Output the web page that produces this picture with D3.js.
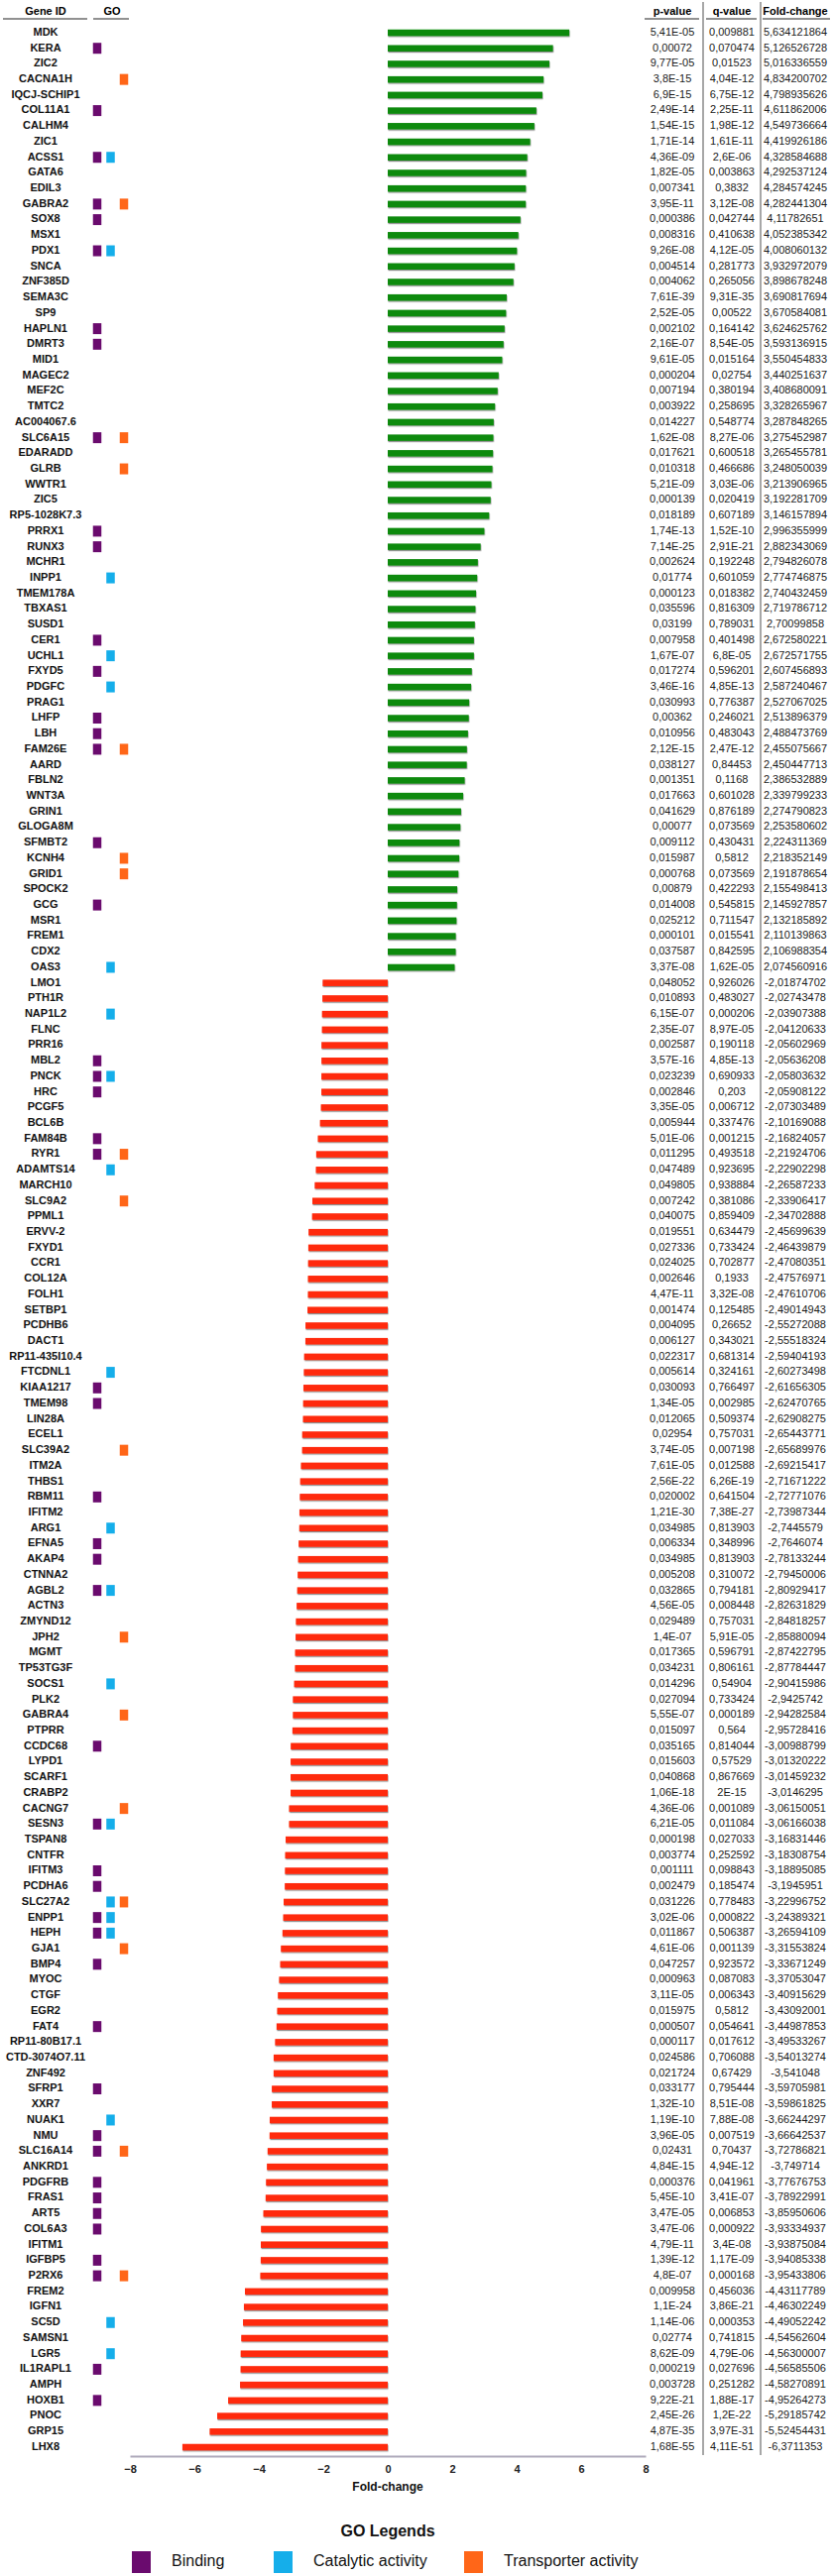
<!DOCTYPE html>
<html>
<head>
<meta charset="utf-8">
<script src="https://cdn.jsdelivr.net/npm/d3@7"></script>
<style>
  html, body { margin: 0; padding: 0; background: #fff; }
  svg text { font-family: "Liberation Sans", Arial, sans-serif; }
</style>
</head>
<body>
<svg id="chart" width="840" height="2599"></svg>
<script>
const genes = ["MDK","KERA","ZIC2","CACNA1H","IQCJ-SCHIP1","COL11A1","CALHM4","ZIC1","ACSS1","GATA6","EDIL3","GABRA2","SOX8","MSX1","PDX1","SNCA","ZNF385D","SEMA3C","SP9","HAPLN1","DMRT3","MID1","MAGEC2","MEF2C","TMTC2","AC004067.6","SLC6A15","EDARADD","GLRB","WWTR1","ZIC5","RP5-1028K7.3","PRRX1","RUNX3","MCHR1","INPP1","TMEM178A","TBXAS1","SUSD1","CER1","UCHL1","FXYD5","PDGFC","PRAG1","LHFP","LBH","FAM26E","AARD","FBLN2","WNT3A","GRIN1","GLOGA8M","SFMBT2","KCNH4","GRID1","SPOCK2","GCG","MSR1","FREM1","CDX2","OAS3",
"LMO1","PTH1R","NAP1L2","FLNC","PRR16","MBL2","PNCK","HRC","PCGF5","BCL6B","FAM84B","RYR1","ADAMTS14","MARCH10","SLC9A2","PPML1","ERVV-2","FXYD1","CCR1","COL12A","FOLH1","SETBP1","PCDHB6","DACT1","RP11-435I10.4","FTCDNL1","KIAA1217","TMEM98","LIN28A","ECEL1","SLC39A2","ITM2A","THBS1","RBM11","IFITM2","ARG1","EFNA5","AKAP4","CTNNA2","AGBL2","ACTN3","ZMYND12","JPH2","MGMT","TP53TG3F","SOCS1","PLK2","GABRA4","PTPRR","CCDC68","LYPD1","SCARF1","CRABP2","CACNG7","SESN3","TSPAN8","CNTFR","IFITM3","PCDHA6","SLC27A2","ENPP1","HEPH","GJA1","BMP4","MYOC","CTGF","EGR2","FAT4","RP11-80B17.1","CTD-3074O7.11","ZNF492","SFRP1","XXR7","NUAK1","NMU","SLC16A14","ANKRD1","PDGFRB","FRAS1","ART5","COL6A3","IFITM1","IGFBP5","P2RX6","FREM2","IGFN1","SC5D","SAMSN1","LGR5","IL1RAPL1","AMPH","HOXB1","PNOC","GRP15","LHX8"];

const pValues = ["5,41E-05","0,00072","9,77E-05","3,8E-15","6,9E-15","2,49E-14","1,54E-15","1,71E-14","4,36E-09","1,82E-05","0,007341","3,95E-11","0,000386","0,008316","9,26E-08","0,004514","0,004062","7,61E-39","2,52E-05","0,002102","2,16E-07","9,61E-05","0,000204","0,007194","0,003922","0,014227","1,62E-08","0,017621","0,010318","5,21E-09","0,000139","0,018189","1,74E-13","7,14E-25","0,002624","0,01774","0,000123","0,035596","0,03199","0,007958","1,67E-07","0,017274","3,46E-16","0,030993","0,00362","0,010956","2,12E-15","0,038127","0,001351","0,017663","0,041629","0,00077","0,009112","0,015987","0,000768","0,00879","0,014008","0,025212","0,000101","0,037587","3,37E-08",
"0,048052","0,010893","6,15E-07","2,35E-07","0,002587","3,57E-16","0,023239","0,002846","3,35E-05","0,005944","5,01E-06","0,011295","0,047489","0,049805","0,007242","0,040075","0,019551","0,027336","0,024025","0,002646","4,47E-11","0,001474","0,004095","0,006127","0,022317","0,005614","0,030093","1,34E-05","0,012065","0,02954","3,74E-05","7,61E-05","2,56E-22","0,020002","1,21E-30","0,034985","0,006334","0,034985","0,005208","0,032865","4,56E-05","0,029489","1,4E-07","0,017365","0,034231","0,014296","0,027094","5,55E-07","0,015097","0,035165","0,015603","0,040868","1,06E-18","4,36E-06","6,21E-05","0,000198","0,003774","0,001111","0,002479","0,031226","3,02E-06","0,011867","4,61E-06","0,047257","0,000963","3,11E-05","0,015975","0,000507","0,000117","0,024586","0,021724","0,033177","1,32E-10","1,19E-10","3,96E-05","0,02431","4,84E-15","0,000376","5,45E-10","3,47E-05","3,47E-06","4,79E-11","1,39E-12","4,8E-07","0,009958","1,1E-24","1,14E-06","0,02774","8,62E-09","0,000219","0,003728","9,22E-21","2,45E-26","4,87E-35","1,68E-55"];

const qValues = ["0,009881","0,070474","0,01523","4,04E-12","6,75E-12","2,25E-11","1,98E-12","1,61E-11","2,6E-06","0,003863","0,3832","3,12E-08","0,042744","0,410638","4,12E-05","0,281773","0,265056","9,31E-35","0,00522","0,164142","8,54E-05","0,015164","0,02754","0,380194","0,258695","0,548774","8,27E-06","0,600518","0,466686","3,03E-06","0,020419","0,607189","1,52E-10","2,91E-21","0,192248","0,601059","0,018382","0,816309","0,789031","0,401498","6,8E-05","0,596201","4,85E-13","0,776387","0,246021","0,483043","2,47E-12","0,84453","0,1168","0,601028","0,876189","0,073569","0,430431","0,5812","0,073569","0,422293","0,545815","0,711547","0,015541","0,842595","1,62E-05",
"0,926026","0,483027","0,000206","8,97E-05","0,190118","4,85E-13","0,690933","0,203","0,006712","0,337476","0,001215","0,493518","0,923695","0,938884","0,381086","0,859409","0,634479","0,733424","0,702877","0,1933","3,32E-08","0,125485","0,26652","0,343021","0,681314","0,324161","0,766497","0,002985","0,509374","0,757031","0,007198","0,012588","6,26E-19","0,641504","7,38E-27","0,813903","0,348996","0,813903","0,310072","0,794181","0,008448","0,757031","5,91E-05","0,596791","0,806161","0,54904","0,733424","0,000189","0,564","0,814044","0,57529","0,867669","2E-15","0,001089","0,011084","0,027033","0,252592","0,098843","0,185474","0,778483","0,000822","0,506387","0,001139","0,923572","0,087083","0,006343","0,5812","0,054641","0,017612","0,706088","0,67429","0,795444","8,51E-08","7,88E-08","0,007519","0,70437","4,94E-12","0,041961","3,41E-07","0,006853","0,000922","3,4E-08","1,17E-09","0,000168","0,456036","3,86E-21","0,000353","0,741815","4,79E-06","0,027696","0,251282","1,88E-17","1,2E-22","3,97E-31","4,11E-51"];

const foldChange = [5.634121864,5.126526728,5.016336559,4.834200702,4.798935626,4.611862006,4.549736664,4.419926186,4.328584688,4.292537124,4.284574245,4.282441304,4.11782651,4.052385342,4.008060132,3.932972079,3.898678248,3.690817694,3.670584081,3.624625762,3.593136915,3.550454833,3.440251637,3.408680091,3.328265967,3.287848265,3.275452987,3.265455781,3.248050039,3.213906965,3.192281709,3.146157894,2.996355999,2.882343069,2.794826078,2.774746875,2.740432459,2.719786712,2.70099858,2.672580221,2.672571755,2.607456893,2.587240467,2.527067025,2.513896379,2.488473769,2.455075667,2.450447713,2.386532889,2.339799233,2.274790823,2.253580602,2.224311369,2.218352149,2.191878654,2.155498413,2.145927857,2.132185892,2.110139863,2.106988354,2.074560916,
-2.01874702,-2.02743478,-2.03907388,-2.04120633,-2.05602969,-2.05636208,-2.05803632,-2.05908122,-2.07303489,-2.10169088,-2.16824057,-2.21924706,-2.22902298,-2.26587233,-2.33906417,-2.34702888,-2.45699639,-2.46439879,-2.47080351,-2.47576971,-2.47610706,-2.49014943,-2.55272088,-2.55518324,-2.59404193,-2.60273498,-2.61656305,-2.62470765,-2.62908275,-2.65443771,-2.65689976,-2.69215417,-2.71671222,-2.72771076,-2.73987344,-2.7445579,-2.7646074,-2.78133244,-2.79450006,-2.80929417,-2.82631829,-2.84818257,-2.85880094,-2.87422795,-2.87784447,-2.90415986,-2.9425742,-2.94282584,-2.95728416,-3.00988799,-3.01320222,-3.01459232,-3.0146295,-3.06150051,-3.06166038,-3.16831446,-3.18308754,-3.18895085,-3.1945951,-3.22996752,-3.24389321,-3.26594109,-3.31553824,-3.33671249,-3.37053047,-3.40915629,-3.43092001,-3.44987853,-3.49533267,-3.54013274,-3.541048,-3.59705981,-3.59861825,-3.66244297,-3.66642537,-3.72786821,-3.749714,-3.77676753,-3.78922991,-3.85950606,-3.93334937,-3.93875084,-3.94085338,-3.95433806,-4.43117789,-4.46302249,-4.49052242,-4.54562604,-4.56300007,-4.56585506,-4.58270891,-4.95264273,-5.29185742,-5.52454431,-6.3711353];

const goBinding = ["KERA","COL11A1","ACSS1","GABRA2","SOX8","PDX1","HAPLN1","DMRT3","SLC6A15","PRRX1","RUNX3","CER1","FXYD5","LHFP","LBH","FAM26E","SFMBT2","GCG","MBL2","PNCK","HRC","FAM84B","RYR1","KIAA1217","TMEM98","RBM11","EFNA5","AKAP4","AGBL2","CCDC68","SESN3","IFITM3","PCDHA6","ENPP1","HEPH","BMP4","FAT4","SFRP1","NMU","SLC16A14","PDGFRB","FRAS1","ART5","COL6A3","IGFBP5","P2RX6","IL1RAPL1","HOXB1"];
const goCatalytic = ["ACSS1","PDX1","INPP1","UCHL1","PDGFC","OAS3","NAP1L2","PNCK","ADAMTS14","FTCDNL1","ARG1","AGBL2","SOCS1","SESN3","SLC27A2","ENPP1","HEPH","NUAK1","SC5D","LGR5"];
const goTransporter = ["CACNA1H","GABRA2","SLC6A15","GLRB","FAM26E","KCNH4","GRID1","RYR1","SLC9A2","SLC39A2","JPH2","GABRA4","CACNG7","SLC27A2","GJA1","SLC16A14","P2RX6"];

const xTicks = [-8,-6,-4,-2,0,2,4,6,8];
const tableHeaders = ["p-value","q-value","Fold-change"];
const legendItems = ["Binding","Catalytic activity","Transporter activity"];

// ---------- drawing ----------
const svg = d3.select("#chart");
const data = genes.map((g,i)=>({gene:g, p:pValues[i], q:qValues[i], fc:foldChange[i]}));

const x = d3.scaleLinear().domain([-8,8]).range([131,651]);
const y = d3.scalePoint().domain(genes).range([33,2469]);

const defs = svg.append("defs");
const f = defs.append("filter").attr("id","shadow").attr("x","-5%").attr("y","-50%").attr("width","110%").attr("height","250%");
f.append("feDropShadow").attr("dx",0.5).attr("dy",1.2).attr("stdDeviation",0.7).attr("flood-color","#000").attr("flood-opacity",0.45);

const colors = {green:"#0e8a0e", red:"#ff2a0c", B:"#6a0b6e", C:"#15aeea", T:"#ff6618"};

// headers
const hdrY = 12;
svg.append("text").attr("x",46).attr("y",hdrY).attr("text-anchor","middle").attr("dominant-baseline","middle")
  .attr("font-size",11).attr("font-weight","bold").text("Gene ID");
svg.append("text").attr("x",113).attr("y",hdrY).attr("text-anchor","middle").attr("dominant-baseline","middle")
  .attr("font-size",11).attr("font-weight","bold").text("GO");
const colX = [678,738,802];
const ulines = [[3,88],[94,130],[650,705],[712,763],[769,837]];
tableHeaders.forEach((h,i)=>{
  svg.append("text").attr("x",colX[i]).attr("y",hdrY).attr("text-anchor","middle").attr("dominant-baseline","middle")
    .attr("font-size",11).attr("font-weight","bold").text(h);
});
ulines.forEach(u=>{
  svg.append("line").attr("x1",u[0]).attr("x2",u[1]).attr("y1",19).attr("y2",19).attr("stroke","#222").attr("stroke-width",1);
});
// separators
[709,767].forEach(sx=>{
  svg.append("line").attr("x1",sx).attr("x2",sx).attr("y1",2).attr("y2",2477).attr("stroke","#8a8a8a").attr("stroke-width",1.5);
});

// gene names
svg.append("g").selectAll("text").data(data).join("text")
  .attr("x",46).attr("y",d=>y(d.gene)).attr("text-anchor","middle").attr("dominant-baseline","middle")
  .attr("font-size",11).attr("font-weight","bold").attr("fill","#111").text(d=>d.gene);

// GO squares
const goX = {B:98, C:111.5, T:125};
const goSets = [["B",goBinding],["C",goCatalytic],["T",goTransporter]];
goSets.forEach(([k,list])=>{
  svg.append("g").selectAll("rect").data(list).join("rect")
    .attr("x",goX[k]-4.25).attr("y",g=>y(g)-5.5).attr("width",8.5).attr("height",11).attr("fill",colors[k]);
});

// bars
const barH = 6.5;
svg.append("g").selectAll("rect").data(data).join("rect")
  .attr("x",d=>x(Math.min(0,d.fc))).attr("y",d=>y(d.gene)-barH/2)
  .attr("width",d=>Math.abs(x(d.fc)-x(0))).attr("height",barH)
  .attr("fill",d=>d.fc>=0?colors.green:colors.red).attr("filter","url(#shadow)");

// table values
const fmt = v => String(v).replace(".",",");
[["p",0],["q",1]].forEach(([k,i])=>{
  svg.append("g").selectAll("text").data(data).join("text")
    .attr("x",colX[i]).attr("y",d=>y(d.gene)).attr("text-anchor","middle").attr("dominant-baseline","middle")
    .attr("font-size",11).attr("fill","#1a1a1a").text(d=>d[k]);
});
svg.append("g").selectAll("text").data(data).join("text")
  .attr("x",colX[2]).attr("y",d=>y(d.gene)).attr("text-anchor","middle").attr("dominant-baseline","middle")
  .attr("font-size",11).attr("fill","#1a1a1a").text(d=>fmt(d.fc));

// x axis
const axisY = 2478;
const ax = svg.append("g").attr("transform",`translate(0,${axisY})`)
  .call(d3.axisBottom(x).tickValues(xTicks).tickSize(0).tickPadding(9).tickFormat(d3.format("d")));
ax.select(".domain").attr("stroke","#aeaabb").attr("stroke-width",2);
ax.selectAll("text").attr("font-size",11).attr("font-weight","bold").attr("fill","#222").attr("font-family","Liberation Sans, Arial, sans-serif");
svg.append("text").attr("x",x(0)).attr("y",2510).attr("text-anchor","middle").attr("dominant-baseline","middle")
  .attr("font-size",12).attr("font-weight","bold").attr("fill","#111").text("Fold-change");

// legend
svg.append("text").attr("x",x(0)).attr("y",2555).attr("text-anchor","middle").attr("dominant-baseline","middle")
  .attr("font-size",16).attr("font-weight","bold").attr("fill","#111").text("GO Legends");
const legX = [133,276,468];
const legCol = [colors.B, colors.C, colors.T];
legendItems.forEach((t,i)=>{
  svg.append("rect").attr("x",legX[i]).attr("y",2574).attr("width",19).attr("height",22).attr("fill",legCol[i]);
  svg.append("text").attr("x",legX[i]+40).attr("y",2585).attr("dominant-baseline","middle")
    .attr("font-size",16).attr("fill","#111").text(t);
});
</script>
</body>
</html>
